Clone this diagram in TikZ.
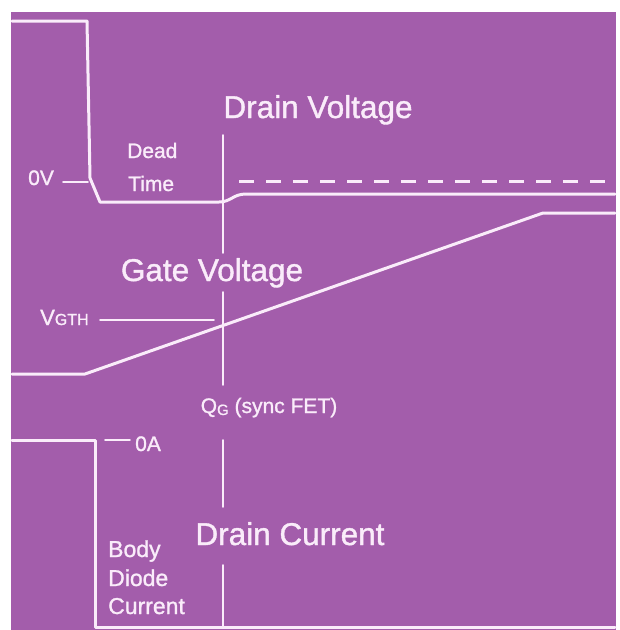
\documentclass[tikz,border=0pt]{standalone}
\usepackage{fontspec}
\setmainfont{Liberation Sans}[BoldFont={Liberation Sans}, BoldFeatures={FakeBold=1.2}]
\definecolor{scanpurple}{RGB}{163,93,171}
\definecolor{trace}{RGB}{250,236,250}
\newcommand{\bigtxt}{\fontsize{31.5}{36}\selectfont\bfseries}
\newcommand{\midtxt}{\fontsize{21}{24}\selectfont\bfseries}
\begin{document}
\begin{tikzpicture}[x=1pt, y=-1pt, line join=round, line cap=round,
    wave/.style={draw=trace, line width=3pt},
    marker/.style={draw=trace, line width=1.8pt},
    lbl/.style={text=trace, inner sep=0pt, anchor=base west, font=\midtxt}]
	\useasboundingbox (0,0) rectangle (620,630);
	\fill[scanpurple] (11,12) rectangle (616,630);
	% drain voltage
	\draw[wave] (12,21) -- (87,21) -- (90,178) -- (100,202) -- (219,202) .. controls (231,202) and (233,194) .. (246,194) -- (615,194);
	\draw[wave, line cap=butt, dash pattern=on 15pt off 12pt] (239,181) -- (615,181);
	% gate voltage
	\draw[wave] (12,374) -- (85,374) -- (543,213) -- (615,213);
	% drain current
	\draw[wave] (12,440) -- (95,440) -- (95,627) -- (615,627);
	% QG marker
	\foreach \a/\b in {135/253, 292/385, 440/507, 565/626}{\draw[marker] (223,\a) -- (223,\b);}
	% level ticks
	\foreach \xa/\xb/\y in {63/88/182, 100/214/320, 105/130/440}{\draw[marker] (\xa,\y) -- (\xb,\y);}
	\node[lbl, anchor=base, font=\bigtxt] (dv) at (318,118) {Drain Voltage};
	\node[lbl, anchor=base, font=\bigtxt] (gv) at (212,281) {Gate Voltage};
	\node[lbl, anchor=base, font=\bigtxt] (dc) at (290,545) {Drain Current};
	\node[lbl] (dead) at (127,158) {Dead};
	\node[lbl] (time) at (128,191) {Time};
	\node[lbl] (zv) at (28,185) {0V};
	\node[lbl] (za) at (135,451) {0A};
	\node[lbl, font=\fontsize{22}{24}\selectfont\bfseries] (vgth) at (40,325) {V{\fontsize{16}{18}\selectfont GTH}};
	\node[lbl, anchor=base] (qg) at (269,413) {Q\raisebox{-2pt}{\fontsize{15}{18}\selectfont G} (sync FET)};
	\foreach \t/\y in {Body/557, Diode/586, Current/614}{\node[lbl, font=\fontsize{23}{26}\selectfont\bfseries] (bdc-\t) at (108,\y) {\t};}
\end{tikzpicture}
\end{document}
